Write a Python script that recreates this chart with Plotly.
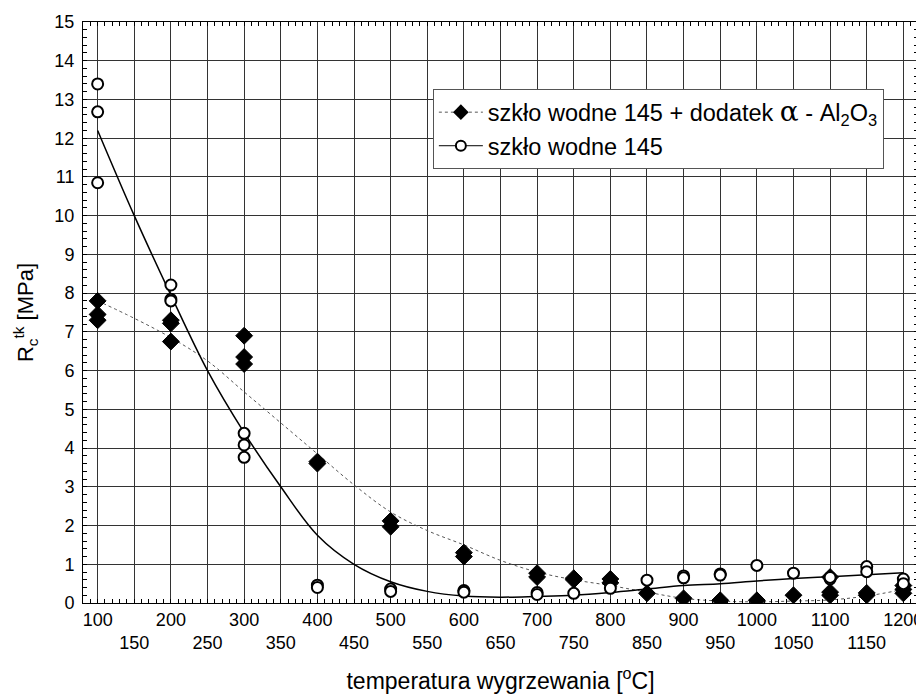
import plotly.graph_objects as go

# --- data ---
x_al = [100, 100, 100, 200, 200, 200, 300, 300, 300, 400, 400, 500, 500, 600, 600,
        700, 700, 750, 750, 800, 800, 850, 900, 950, 1000, 1050, 1100, 1100, 1100,
        1150, 1150, 1200, 1200, 1200]
y_al = [7.8, 7.45, 7.3, 7.3, 7.22, 6.75, 6.9, 6.35, 6.17, 3.65, 3.6, 2.12, 1.97, 1.3, 1.2,
        0.77, 0.67, 0.64, 0.6, 0.62, 0.52, 0.25, 0.12, 0.07, 0.07, 0.2, 0.67, 0.28, 0.2,
        0.26, 0.2, 0.45, 0.35, 0.25]

x_sw = [100, 100, 100, 200, 200, 200, 300, 300, 300, 400, 400, 500, 500, 600, 600,
        700, 700, 750, 800, 850, 900, 900, 950, 950, 1000, 1050, 1100, 1100, 1150, 1150,
        1200, 1200]
y_sw = [13.4, 12.68, 10.85, 8.21, 7.84, 7.8, 4.38, 4.08, 3.76, 0.46, 0.4, 0.36, 0.3, 0.32, 0.28,
        0.27, 0.22, 0.25, 0.38, 0.59, 0.7, 0.65, 0.75, 0.72, 0.97, 0.77, 0.62, 0.66, 0.94, 0.81,
        0.62, 0.5]

fit_x = [100, 150, 200, 250, 300, 350, 400, 450, 500, 550, 600, 650, 700, 750, 800,
         850, 900, 950, 1000, 1050, 1100, 1150, 1200]
fit_sw = [12.2, 10.0, 7.95, 6.0, 4.4, 3.0, 1.75, 1.0, 0.55, 0.3, 0.18, 0.15, 0.17, 0.2, 0.27,
          0.36, 0.45, 0.5, 0.57, 0.63, 0.68, 0.73, 0.78]
fit_al = [7.8, 7.35, 6.85, 6.25, 5.45, 4.65, 3.85, 3.05, 2.35, 1.87, 1.5, 1.1, 0.8, 0.6, 0.45,
          0.28, 0.12, 0.05, 0.03, 0.05, 0.08, 0.18, 0.35]

x_ticks = list(range(100, 1201, 50))
x_ticktext = [str(v) if v % 100 == 0 else "<br>" + str(v) for v in x_ticks]
y_ticks = list(range(0, 16))

name_al = ("szkło wodne 145 + dodatek <span style='font-family:DejaVu Serif;font-size:28px'>α</span>"
           " - Al<sub>2</sub>O<sub>3</sub>")
name_sw = "szkło wodne 145"

FONT = "Liberation Sans, Arial, sans-serif"

fig = go.Figure()

fig.add_trace(go.Scatter(x=fit_x, y=fit_al, mode="lines",
                         line=dict(color="#555555", width=1, dash="dot", shape="spline"),
                         showlegend=False, hoverinfo="skip"))
fig.add_trace(go.Scatter(x=fit_x, y=fit_sw, mode="lines",
                         line=dict(color="black", width=1.5, shape="spline"),
                         showlegend=False, hoverinfo="skip"))
fig.add_trace(go.Scatter(x=x_al, y=y_al, mode="markers",
                         marker=dict(symbol="diamond", size=13, color="black", line=dict(color="black", width=1)),
                         showlegend=False))
fig.add_trace(go.Scatter(x=x_sw, y=y_sw, mode="markers",
                         marker=dict(symbol="circle", size=11, color="white", line=dict(color="black", width=2)),
                         showlegend=False))
# legend entries
fig.add_trace(go.Scatter(x=[None], y=[None], mode="lines+markers", name=name_al,
                         line=dict(color="#555555", width=1, dash="dot"),
                         marker=dict(symbol="diamond", size=12, color="black")))
fig.add_trace(go.Scatter(x=[None], y=[None], mode="lines+markers", name=name_sw,
                         line=dict(color="black", width=1),
                         marker=dict(symbol="circle", size=10, color="white", line=dict(color="black", width=2))))
# helper trace for mirrored top/right ticks
fig.add_trace(go.Scatter(x=[None], y=[None], xaxis="x2", yaxis="y2", showlegend=False, hoverinfo="skip"))

tick_font = dict(family=FONT, size=18, color="black")
xtitle_font = dict(family=FONT, size=23, color="black")
ytitle_font = dict(family=FONT, size=22, color="black")

fig.update_layout(
    width=924, height=697,
    margin=dict(l=75, r=14, t=14, b=102),
    paper_bgcolor="white", plot_bgcolor="white",
    font=tick_font,
    legend=dict(x=0.419, y=0.884, xanchor="left", yanchor="top",
                bgcolor="white", bordercolor="#555555", borderwidth=1,
                font=dict(family=FONT, size=23.5, color="black"),
                tracegroupgap=0, itemwidth=44),
    xaxis=dict(range=[80, 1220], tickmode="array", tickvals=x_ticks, ticktext=x_ticktext,
               tickangle=0, automargin=False,
               showgrid=True, gridcolor="#333333", gridwidth=1, zeroline=False,
               showline=True, linecolor="black", linewidth=1, mirror=True,
               ticks="inside", ticklen=0, tickcolor="black",
               minor=dict(ticks="inside", dtick=10, tick0=0, ticklen=4, tickcolor="black", showgrid=False),
               tickfont=tick_font,
               title=dict(text="temperatura wygrzewania [<sup>o</sup>C]", font=xtitle_font, standoff=20)),
    yaxis=dict(range=[0, 15], tickmode="array", tickvals=y_ticks, automargin=False,
               showgrid=True, gridcolor="#333333", gridwidth=1, zeroline=False,
               showline=True, linecolor="black", linewidth=1, mirror=True,
               ticks="inside", ticklen=0, tickcolor="black", ticklabelstandoff=4,
               minor=dict(ticks="inside", dtick=0.2, ticklen=4, tickcolor="black", showgrid=False),
               tickfont=tick_font,
               title=dict(text="R<sub>c</sub><sup>tk</sup> [MPa]", font=ytitle_font, standoff=14)),
    xaxis2=dict(range=[80, 1220], overlaying="x", side="top", anchor="y2", showticklabels=False,
                showgrid=False, zeroline=False, ticks="inside", ticklen=0,
                minor=dict(ticks="inside", dtick=10, tick0=0, ticklen=4, tickcolor="black", showgrid=False)),
    yaxis2=dict(range=[0, 15], overlaying="y", side="right", anchor="x2", showticklabels=False,
                showgrid=False, zeroline=False, ticks="inside", ticklen=0,
                minor=dict(ticks="inside", dtick=0.2, ticklen=4, tickcolor="black", showgrid=False)),
)

fig.write_html("out.html")
